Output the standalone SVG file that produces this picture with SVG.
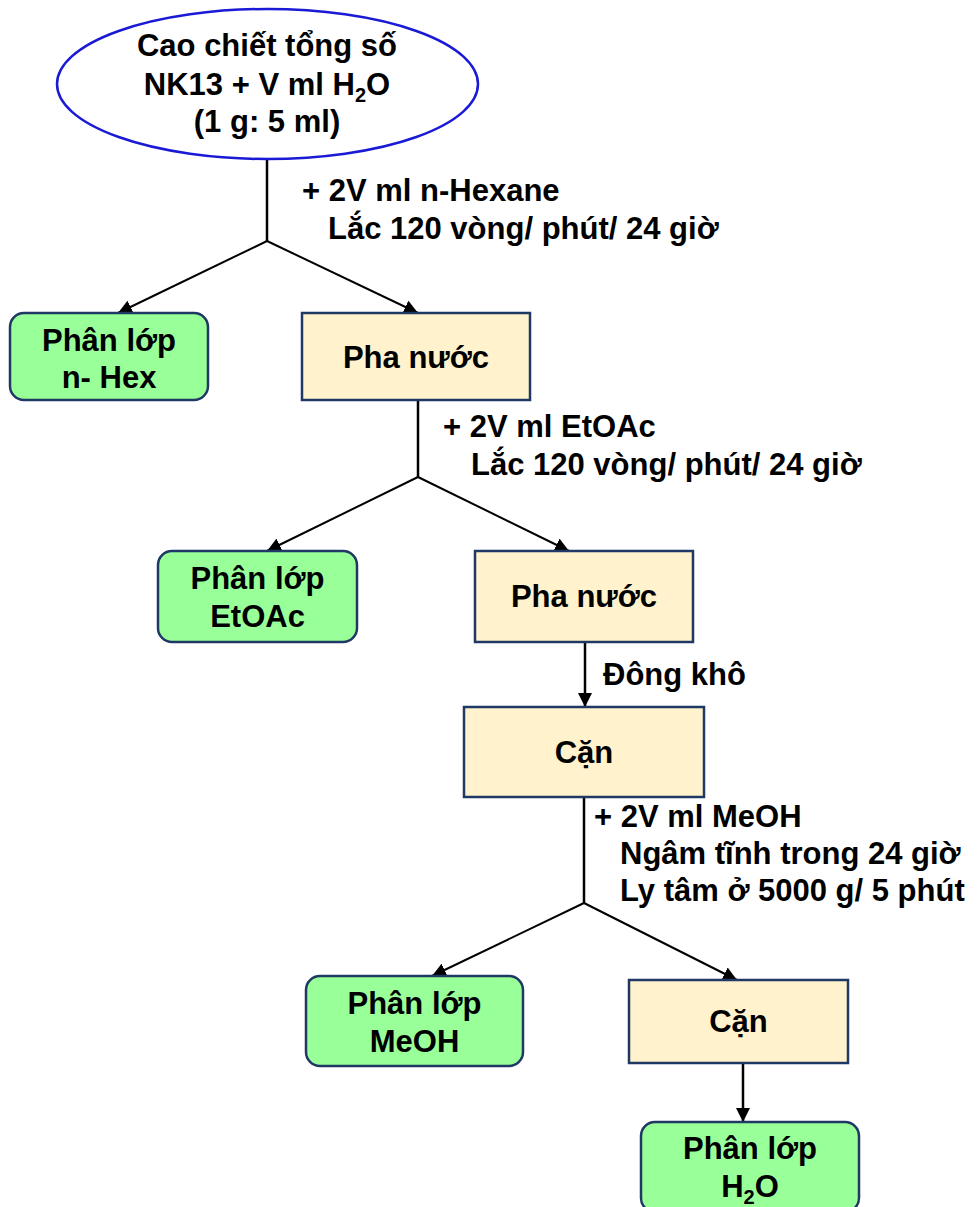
<svg xmlns="http://www.w3.org/2000/svg" width="978" height="1207" viewBox="0 0 978 1207">
<style>
text{font-family:"Liberation Sans",Arial,sans-serif;font-weight:bold;font-size:31px;fill:#000}
.c{text-anchor:middle}
.green{fill:#99ff99;stroke:#1f3864;stroke-width:2.5}
.beige{fill:#fff2cc;stroke:#1f3864;stroke-width:2.5}
.ln{stroke:#000;stroke-width:2.5;fill:none}
.dg{stroke:#000;stroke-width:2;fill:none}
</style>
<defs>
<marker id="ah" markerUnits="userSpaceOnUse" markerWidth="16" markerHeight="14" refX="14" refY="7" orient="auto">
<path d="M0,0 L14,7 L0,14 Z" fill="#000"/>
</marker>
</defs>
<rect width="978" height="1207" fill="#fff"/>
<g id="connectors">
<line class="ln" x1="267" y1="159" x2="267" y2="241"/>
<line class="dg" x1="267" y1="241" x2="118" y2="313" marker-end="url(#ah)"/>
<line class="dg" x1="267" y1="241" x2="418" y2="313" marker-end="url(#ah)"/>
<line class="ln" x1="418" y1="400" x2="418" y2="477"/>
<line class="dg" x1="418" y1="477" x2="267" y2="551" marker-end="url(#ah)"/>
<line class="dg" x1="418" y1="477" x2="569" y2="551" marker-end="url(#ah)"/>
<line class="ln" x1="585" y1="642" x2="585" y2="707" marker-end="url(#ah)"/>
<line class="ln" x1="584" y1="797" x2="584" y2="903"/>
<line class="dg" x1="584" y1="903" x2="432" y2="976" marker-end="url(#ah)"/>
<line class="dg" x1="584" y1="903" x2="737" y2="980" marker-end="url(#ah)"/>
<line class="ln" x1="743" y1="1063" x2="743" y2="1122" marker-end="url(#ah)"/>
<text x="302" y="201">+ 2V ml n-Hexane</text>
<text x="328" y="239">Lắc 120 vòng/ phút/ 24 giờ</text>
<text x="443" y="437">+ 2V ml EtOAc</text>
<text x="471" y="475">Lắc 120 vòng/ phút/ 24 giờ</text>
<text x="603" y="685">Đông khô</text>
<text x="594" y="827">+ 2V ml MeOH</text>
<text x="620" y="864">Ngâm tĩnh trong 24 giờ</text>
<text x="620" y="901">Ly tâm ở 5000 g/ 5 phút</text>
</g>
<g id="start">
<ellipse cx="267.5" cy="84" rx="210.5" ry="75" fill="#fff" stroke="#1a1ad6" stroke-width="2.5"/>
<text class="c" x="267" y="56">Cao chiết tổng số</text>
<text class="c" x="267" y="95">NK13 + V ml H<tspan font-size="20" dy="7">2</tspan><tspan dy="-7">O</tspan></text>
<text class="c" x="267" y="132">(1 g: 5 ml)</text>
</g>
<g id="hex">
<rect class="green" x="10" y="313" width="198" height="87" rx="14"/>
<text class="c" x="109" y="351">Phân lớp</text>
<text class="c" x="109" y="388">n- Hex</text>
</g>
<g id="water1">
<rect class="beige" x="302" y="313" width="228" height="87"/>
<text class="c" x="416" y="368">Pha nước</text>
</g>
<g id="etoac">
<rect class="green" x="158" y="551" width="199" height="91" rx="14"/>
<text class="c" x="257.5" y="589">Phân lớp</text>
<text class="c" x="257.5" y="627">EtOAc</text>
</g>
<g id="water2">
<rect class="beige" x="475" y="551" width="218" height="91"/>
<text class="c" x="584" y="607">Pha nước</text>
</g>
<g id="residue1">
<rect class="beige" x="464" y="707" width="240" height="90"/>
<text class="c" x="584" y="763">Cặn</text>
</g>
<g id="meoh">
<rect class="green" x="306" y="976" width="217" height="90" rx="14"/>
<text class="c" x="414.5" y="1014">Phân lớp</text>
<text class="c" x="414.5" y="1052">MeOH</text>
</g>
<g id="residue2">
<rect class="beige" x="629" y="980" width="219" height="83"/>
<text class="c" x="738.5" y="1032">Cặn</text>
</g>
<g id="h2o">
<rect class="green" x="641" y="1122" width="218" height="90" rx="14"/>
<text class="c" x="750" y="1159">Phân lớp</text>
<text class="c" x="750" y="1197">H<tspan font-size="20" dy="7">2</tspan><tspan dy="-7">O</tspan></text>
</g>
</svg>
